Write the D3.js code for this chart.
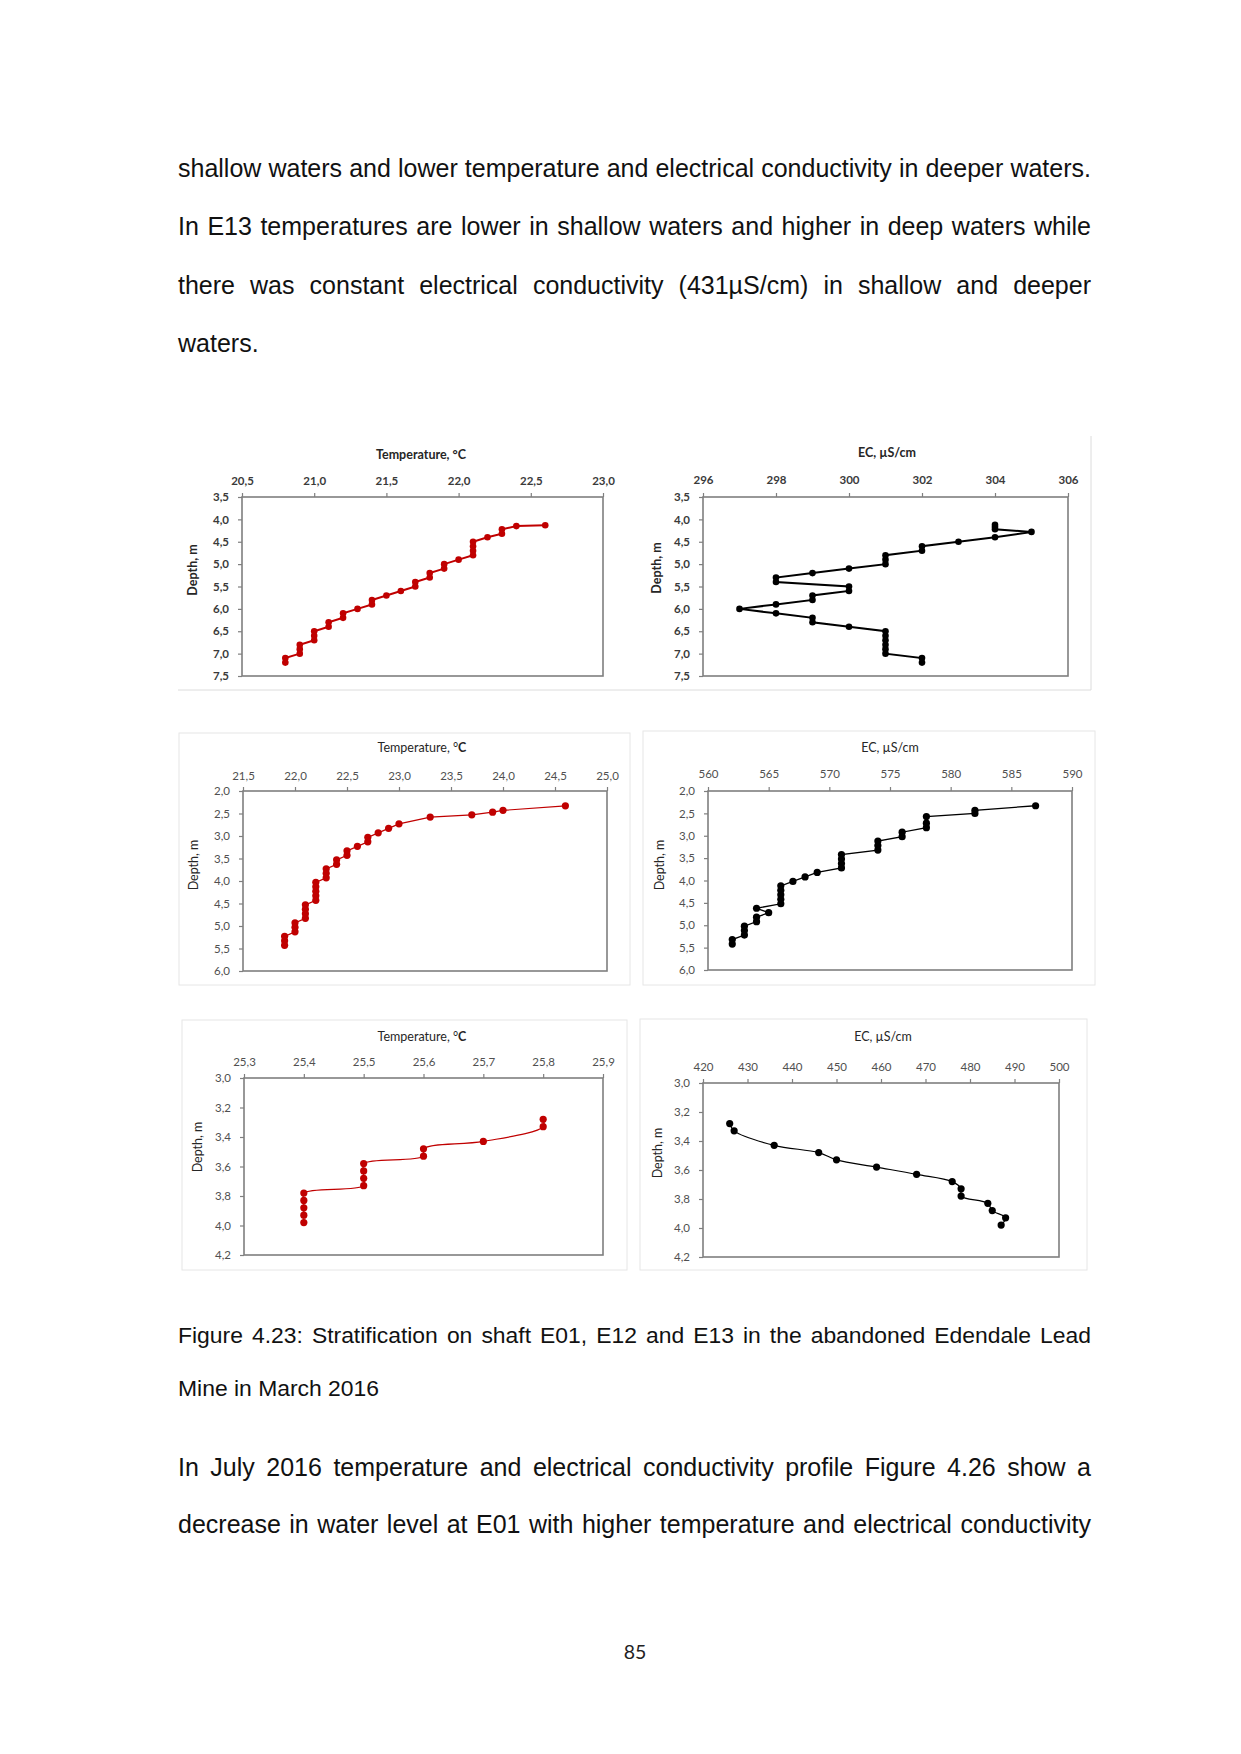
<!DOCTYPE html>
<html><head><meta charset="utf-8">
<script src="https://cdn.jsdelivr.net/npm/d3@7"></script>
<style>body{margin:0;background:#fff} svg{display:block}</style>
</head><body>
<svg id="page" width="1241" height="1754"></svg>
<script>
// ---------------- DATA ----------------
// Shaft E01: temperature profile
const e01TempC = [22.6, 22.4, 22.3, 22.3, 22.2, 22.1, 22.1, 22.1, 22.1, 22.0, 21.9, 21.9, 21.8, 21.8, 21.7, 21.7, 21.6, 21.5, 21.4, 21.4, 21.3, 21.2, 21.2, 21.1, 21.1, 21.0, 21.0, 21.0, 20.9, 20.9, 20.9, 20.8, 20.8];
const e01TempDepth = [4.13, 4.15, 4.22, 4.32, 4.4, 4.5, 4.6, 4.7, 4.8, 4.9, 5.0, 5.1, 5.2, 5.3, 5.4, 5.5, 5.6, 5.7, 5.8, 5.9, 6.0, 6.1, 6.2, 6.3, 6.4, 6.5, 6.6, 6.7, 6.8, 6.9, 7.0, 7.1, 7.2];
// Shaft E01: EC profile
const e01EC = [304, 304, 304, 305, 304, 303, 302, 302, 301, 301, 301, 300, 299, 298, 298, 300, 300, 299, 299, 298, 297, 298, 299, 299, 300, 301, 301, 301, 301, 301, 301, 302, 302];
const e01ECDepth = [4.12, 4.17, 4.22, 4.28, 4.4, 4.5, 4.6, 4.7, 4.8, 4.9, 5.0, 5.1, 5.2, 5.3, 5.4, 5.5, 5.6, 5.7, 5.8, 5.9, 6.0, 6.1, 6.2, 6.3, 6.4, 6.5, 6.6, 6.7, 6.8, 6.9, 7.0, 7.1, 7.2];
// Shaft E12: temperature profile
const e12TempC = [24.6, 24.0, 23.9, 23.7, 23.3, 23.0, 22.9, 22.8, 22.7, 22.7, 22.6, 22.5, 22.5, 22.4, 22.4, 22.3, 22.3, 22.3, 22.2, 22.2, 22.2, 22.2, 22.2, 22.1, 22.1, 22.1, 22.1, 22.0, 22.0, 22.0, 21.9, 21.9, 21.9];
const e12TempDepth = [2.33, 2.43, 2.47, 2.53, 2.58, 2.73, 2.83, 2.93, 3.03, 3.13, 3.23, 3.33, 3.43, 3.53, 3.63, 3.73, 3.83, 3.93, 4.03, 4.13, 4.23, 4.33, 4.43, 4.53, 4.63, 4.73, 4.83, 4.93, 5.03, 5.13, 5.23, 5.33, 5.43];
// Shaft E12: EC profile
const e12EC = [587, 582, 582, 578, 578, 578, 576, 576, 574, 574, 574, 571, 571, 571, 571, 569, 568, 567, 566, 566, 566, 566, 566, 564, 565, 564, 564, 563, 563, 563, 562, 562];
const e12ECDepth = [2.33, 2.43, 2.5, 2.57, 2.72, 2.82, 2.92, 3.02, 3.12, 3.22, 3.32, 3.42, 3.52, 3.62, 3.72, 3.82, 3.92, 4.02, 4.12, 4.22, 4.32, 4.42, 4.52, 4.62, 4.72, 4.82, 4.92, 5.02, 5.12, 5.22, 5.32, 5.42];
// Shaft E13: temperature profile
const e13TempC = [25.8, 25.8, 25.7, 25.6, 25.6, 25.5, 25.5, 25.5, 25.5, 25.4, 25.4, 25.4, 25.4, 25.4];
const e13TempDepth = [3.28, 3.33, 3.43, 3.48, 3.53, 3.58, 3.63, 3.68, 3.73, 3.78, 3.83, 3.88, 3.93, 3.98];
// Shaft E13: EC profile
const e13EC = [426, 427, 436, 446, 450, 459, 468, 476, 478, 478, 484, 485, 488, 487];
const e13ECDepth = [3.28, 3.33, 3.43, 3.48, 3.53, 3.58, 3.63, 3.68, 3.73, 3.78, 3.83, 3.88, 3.93, 3.98];

// Tick values
const e01TempTicks = [20.5, 21.0, 21.5, 22.0, 22.5, 23.0];
const e01ECTicks = [296, 298, 300, 302, 304, 306];
const e01DepthTicks = [3.5, 4.0, 4.5, 5.0, 5.5, 6.0, 6.5, 7.0, 7.5];
const e12TempTicks = [21.5, 22.0, 22.5, 23.0, 23.5, 24.0, 24.5, 25.0];
const e12ECTicks = [560, 565, 570, 575, 580, 585, 590];
const e12DepthTicks = [2.0, 2.5, 3.0, 3.5, 4.0, 4.5, 5.0, 5.5, 6.0];
const e13TempTicks = [25.3, 25.4, 25.5, 25.6, 25.7, 25.8, 25.9];
const e13ECTicks = [420, 430, 440, 450, 460, 470, 480, 490, 500];
const e13DepthTicks = [3.0, 3.2, 3.4, 3.6, 3.8, 4.0, 4.2];

// Text
const topParagraph = [
  "shallow waters and lower temperature and electrical conductivity in deeper waters.",
  "In E13 temperatures are lower in shallow waters and higher in deep waters while",
  "there was constant electrical conductivity (431µS/cm) in shallow and deeper",
  "waters."
];
const captionLines = [
  "Figure 4.23: Stratification on shaft E01, E12 and E13 in the abandoned Edendale Lead",
  "Mine in March 2016"
];
const bottomParagraph = [
  "In July 2016 temperature and electrical conductivity profile Figure 4.26 show a",
  "decrease in water level at E01 with higher temperature and electrical conductivity"
];
const pageNumber = "85";

// ---------------- DRAWING ----------------
const svg = d3.select("#page");
const BODY_FONT = "'Liberation Sans', Arial, sans-serif";
const CHART_FONT = "Lato, 'Open Sans', sans-serif";
const RED = "#c00000";

function textLine(str, x0, x1, baseline, size, justify) {
  const t = svg.append("text").attr("y", baseline)
    .attr("font-family", BODY_FONT).attr("font-size", size).attr("fill", "#111");
  if (!justify) { t.attr("x", x0).text(str); return; }
  const words = str.split(" ");
  const spans = words.map(w => t.append("tspan").text(w));
  const widths = spans.map(s => s.node().getComputedTextLength());
  const gap = (x1 - x0 - d3.sum(widths)) / (words.length - 1);
  let cx = x0;
  spans.forEach((s, i) => { s.attr("x", cx); cx += widths[i] + gap; });
}

const L = 178, R = 1091;
[176.5, 235, 293.5, 352].forEach((b, i) => textLine(topParagraph[i], L, R, b, 25, i < 3));
[1343, 1396].forEach((b, i) => textLine(captionLines[i], L, R, b, 22.9, i < 1));
[1476, 1533].forEach((b, i) => textLine(bottomParagraph[i], L, R, b, 25, true));
svg.append("text").attr("x", 635).attr("y", 1659).attr("text-anchor", "middle")
  .attr("font-family", CHART_FONT).attr("font-size", 19.5).attr("fill", "#222").text(pageNumber);

// faint picture borders
const borderColor = "#dcdcdc";
svg.append("line").attr("x1", 178).attr("x2", 1091).attr("y1", 690).attr("y2", 690).attr("stroke", borderColor);
svg.append("line").attr("x1", 1091).attr("x2", 1091).attr("y1", 436).attr("y2", 690).attr("stroke", borderColor);
[[179, 733, 630, 985], [643, 731, 1095, 985], [182, 1020, 627, 1270], [640, 1019, 1087, 1270]].forEach(b => {
  svg.append("rect").attr("x", b[0]).attr("y", b[1]).attr("width", b[2] - b[0]).attr("height", b[3] - b[1])
    .attr("fill", "none").attr("stroke", "#e6e6e6");
});

const comma1 = d => d3.format(".1f")(d).replace(".", ",");
const intFmt = d3.format("d");

function drawPanel(p) {
  const x = d3.scaleLinear().domain(p.xDomain).range([p.x0, p.x1]);
  const y = d3.scaleLinear().domain(p.yDomain).range([p.y0, p.y1]);
  const g = svg.append("g");
  const weight = p.bold ? "bold" : "normal";

  // title
  const tt = g.append("text").attr("x", p.titleX).attr("y", p.titleY).attr("text-anchor", "middle")
    .attr("font-family", CHART_FONT).attr("font-size", 12.5).attr("font-weight", weight).attr("fill", "#262626");
  if (p.title.endsWith("°C") && !p.bold) {
    tt.append("tspan").text(p.title.slice(0, -1));
    tt.append("tspan").attr("font-weight", "bold").text("C");
  } else tt.text(p.title);

  // y label
  g.append("text").attr("transform", `translate(${p.ylabX},${p.ylabY}) rotate(-90)`)
    .attr("text-anchor", "middle").attr("dy", "0.35em")
    .attr("font-family", CHART_FONT).attr("font-size", 12.5).attr("font-weight", weight).attr("fill", "#262626")
    .text("Depth, m");

  // axes
  const xa = g.append("g").attr("transform", `translate(0,${p.y0})`)
    .call(d3.axisTop(x).tickValues(p.xTicks).tickSize(4).tickPadding(p.y0 - p.xLabY - 4).tickFormat(p.xFmt));
  const ya = g.append("g").attr("transform", `translate(${p.x0},0)`)
    .call(d3.axisLeft(y).tickValues(p.yTicks).tickSize(4).tickPadding(9).tickFormat(comma1));
  [xa, ya].forEach(a => {
    a.select(".domain").remove();
    a.selectAll(".tick line").attr("stroke", "#7f7f7f").attr("stroke-width", 1.2);
    a.selectAll(".tick text").attr("font-family", CHART_FONT).attr("font-size", 11.5)
      .attr("font-weight", weight).attr("fill", p.bold ? "#3a3a3a" : "#505050");
  });
  xa.selectAll(".tick text").attr("dy", 0);

  // frame
  g.append("rect").attr("x", p.x0).attr("y", p.y0).attr("width", p.x1 - p.x0).attr("height", p.y1 - p.y0)
    .attr("fill", "none").attr("stroke", "#7f7f7f").attr("stroke-width", 1.6);

  const pts = p.xs.map((v, i) => [v, p.ys[i]]);
  const line = d3.line().x(d => x(d[0])).y(d => y(d[1])).curve(p.smooth ? d3.curveCatmullRom.alpha(0.5) : d3.curveLinear);
  g.append("path").datum(pts).attr("d", line).attr("fill", "none")
    .attr("stroke", p.color).attr("stroke-width", p.lw);
  g.selectAll("circle.pt").data(pts).join("circle").attr("class", "pt")
    .attr("cx", d => x(d[0])).attr("cy", d => y(d[1])).attr("r", p.r).attr("fill", p.color);
}

drawPanel({ xs: e01TempC, ys: e01TempDepth, xDomain: [20.5, 23.0], yDomain: [3.5, 7.5], xTicks: e01TempTicks, yTicks: e01DepthTicks, xFmt: comma1,
  x0: 242, x1: 603, y0: 497, y1: 676, xLabY: 485, titleX: 421, titleY: 459, title: "Temperature, °C", ylabX: 193, ylabY: 570,
  bold: true, color: RED, lw: 2, r: 3.3, smooth: false });
drawPanel({ xs: e01EC, ys: e01ECDepth, xDomain: [296, 306], yDomain: [3.5, 7.5], xTicks: e01ECTicks, yTicks: e01DepthTicks, xFmt: intFmt,
  x0: 703, x1: 1068, y0: 497, y1: 676, xLabY: 484, titleX: 887, titleY: 457, title: "EC, µS/cm", ylabX: 657, ylabY: 568,
  bold: true, color: "#000", lw: 2, r: 3.3, smooth: false });
drawPanel({ xs: e12TempC, ys: e12TempDepth, xDomain: [21.5, 25.0], yDomain: [2.0, 6.0], xTicks: e12TempTicks, yTicks: e12DepthTicks, xFmt: comma1,
  x0: 243, x1: 607, y0: 791, y1: 971, xLabY: 780, titleX: 422, titleY: 752, title: "Temperature, °C", ylabX: 194, ylabY: 865,
  bold: false, color: RED, lw: 1.2, r: 3.6, smooth: false });
drawPanel({ xs: e12EC, ys: e12ECDepth, xDomain: [560, 590], yDomain: [2.0, 6.0], xTicks: e12ECTicks, yTicks: e12DepthTicks, xFmt: intFmt,
  x0: 708, x1: 1072, y0: 791, y1: 970, xLabY: 778, titleX: 890, titleY: 752, title: "EC, µS/cm", ylabX: 660, ylabY: 865,
  bold: false, color: "#000", lw: 1.3, r: 3.6, smooth: false });
drawPanel({ xs: e13TempC, ys: e13TempDepth, xDomain: [25.3, 25.9], yDomain: [3.0, 4.2], xTicks: e13TempTicks, yTicks: e13DepthTicks, xFmt: comma1,
  x0: 244, x1: 603, y0: 1078, y1: 1255, xLabY: 1066, titleX: 422, titleY: 1041, title: "Temperature, °C", ylabX: 198, ylabY: 1147,
  bold: false, color: RED, lw: 1.2, r: 3.6, smooth: true });
drawPanel({ xs: e13EC, ys: e13ECDepth, xDomain: [420, 500], yDomain: [3.0, 4.2], xTicks: e13ECTicks, yTicks: e13DepthTicks, xFmt: intFmt,
  x0: 703, x1: 1059, y0: 1083, y1: 1257, xLabY: 1071, titleX: 883, titleY: 1041, title: "EC, µS/cm", ylabX: 658, ylabY: 1153,
  bold: false, color: "#000", lw: 1.2, r: 3.6, smooth: true });
</script>
</body></html>
